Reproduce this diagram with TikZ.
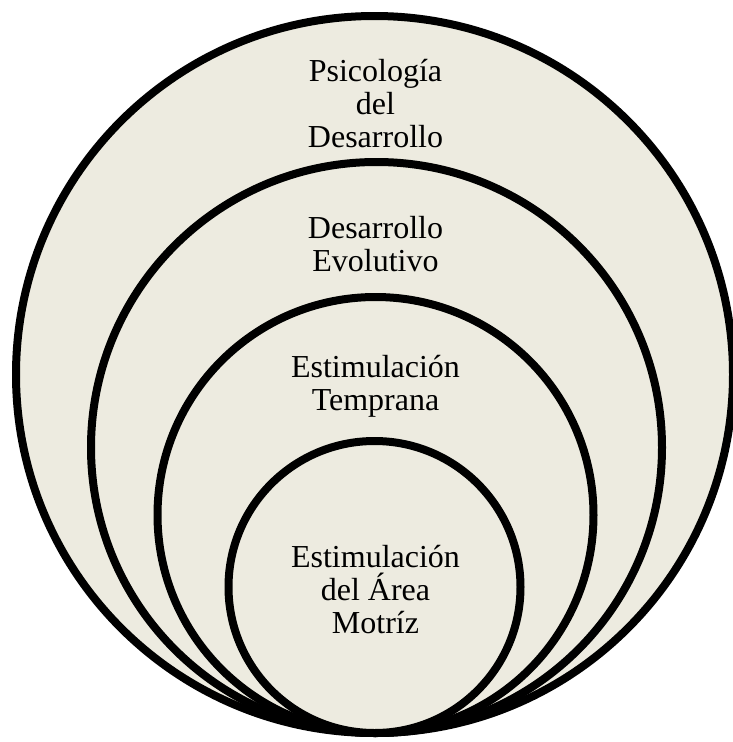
\documentclass[tikz,border=0pt]{standalone}
\usepackage{fontspec}
\setmainfont{Liberation Serif}
\usetikzlibrary{shadows}
\definecolor{ringfill}{RGB}{237,235,224}
\tikzset{
  ring/.style={circle, draw=black, line width=8pt, fill=ringfill, inner sep=0pt,
    drop shadow={shadow xshift=2pt, shadow yshift=-2pt, opacity=0.35, fill=black}},
  label/.style={align=center, anchor=base, font=\fontsize{32}{33}\selectfont, text=black, inner sep=0pt}
}
\begin{document}
\begin{tikzpicture}[x=1pt,y=-1pt]
\useasboundingbox (0,0) rectangle (733,742);
\fill[white] (0,0) rectangle (733,742);
\node[ring, minimum size=717pt] (c1) at (374.5,374.5) {};
\node[ring, minimum size=571pt] (c2) at (376.5,447.5) {};
\node[ring, minimum size=436pt] (c3) at (375.5,515) {};
\node[ring, minimum size=292pt] (c4) at (374.5,587) {};
\node[label] (t1) at (375.5,147) {Psicología\\del\\Desarrollo};
\node[label] (t2) at (375.5,271) {Desarrollo\\Evolutivo};
\node[label] (t3) at (375.5,410) {Estimulación\\Temprana};
\node[label] (t4) at (375.5,633) {Estimulación\\del Área\\Motríz};
\end{tikzpicture}
\end{document}
